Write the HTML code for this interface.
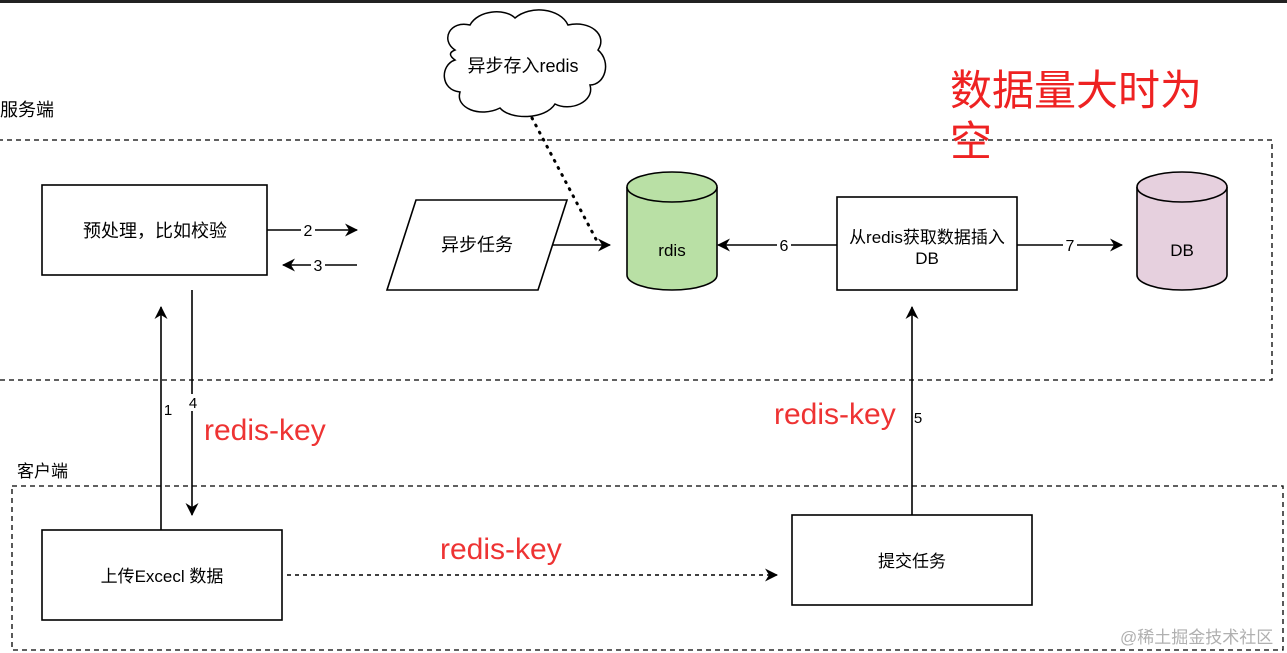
<!DOCTYPE html>
<html><head><meta charset="utf-8"><style>
html,body{margin:0;padding:0;background:#fff;width:1287px;height:653px;overflow:hidden}
text{font-family:"Liberation Sans","Noto Sans CJK SC",sans-serif}
</style></head><body>
<svg width="1287" height="653" viewBox="0 0 1287 653" xmlns="http://www.w3.org/2000/svg">
<defs>
<marker id="a" markerWidth="13" markerHeight="13" refX="12" refY="6.5" orient="auto" markerUnits="userSpaceOnUse">
<path d="M0,0 L13,6.5 L0,13 L4,6.5 Z" fill="#000"/></marker>
</defs>
<rect x="0" y="0" width="1287" height="3" fill="#222"/>
<rect x="-2" y="140" width="1274" height="240" fill="none" stroke="#000" stroke-width="1.3" stroke-dasharray="5,4"/>
<rect x="12" y="486" width="1271" height="164" fill="none" stroke="#000" stroke-width="1.3" stroke-dasharray="5,4"/>
<text x="0" y="116" font-size="18">服务端</text>
<text x="17" y="477" font-size="17">客户端</text>
<path d="M455,50 C440,40 450,20 470,25 C478,10 505,8 515,18 C530,5 560,8 568,25 C590,20 608,35 598,50 C612,62 605,85 590,85 C595,102 570,112 555,104 C545,120 510,120 500,108 C480,118 455,108 460,92 C440,90 440,65 455,60 C448,55 450,52 455,50 Z" fill="#fff" stroke="#000" stroke-width="1.5"/>
<text x="523" y="72" font-size="18" text-anchor="middle">异步存入redis</text>
<line x1="532" y1="118" x2="598" y2="243" stroke="#000" stroke-width="3" stroke-dasharray="1,7" stroke-linecap="round"/>
<rect x="42" y="185" width="225" height="90" fill="#fff" stroke="#000" stroke-width="1.6"/>
<text x="155" y="237" font-size="18" text-anchor="middle">预处理，比如校验</text>
<line x1="267" y1="230" x2="357" y2="230" stroke="#000" stroke-width="1.6" marker-end="url(#a)"/>
<rect x="301" y="221" width="14" height="18" fill="#fff"/><text x="308" y="236" font-size="16" text-anchor="middle">2</text>
<line x1="357" y1="265" x2="283" y2="265" stroke="#000" stroke-width="1.6" marker-end="url(#a)"/>
<rect x="311" y="256" width="14" height="18" fill="#fff"/><text x="318" y="271" font-size="16" text-anchor="middle">3</text>
<polygon points="416,200 567,200 538,290 387,290" fill="#fff" stroke="#000" stroke-width="1.6"/>
<text x="477" y="251" font-size="18" text-anchor="middle">异步任务</text>
<line x1="553" y1="245" x2="610" y2="245" stroke="#000" stroke-width="1.6" marker-end="url(#a)"/>
<path d="M627,187 L627,275 A45,15 0 0 0 717,275 L717,187" fill="#b9e0a5" stroke="#000" stroke-width="1.6"/>
<ellipse cx="672" cy="187" rx="45" ry="15" fill="#b9e0a5" stroke="#000" stroke-width="1.6"/>
<text x="672" y="256" font-size="17" text-anchor="middle">rdis</text>
<rect x="837" y="197" width="180" height="93" fill="#fff" stroke="#000" stroke-width="1.6"/>
<text x="927" y="243" font-size="17" text-anchor="middle">从redis获取数据插入</text>
<text x="927" y="264" font-size="17" text-anchor="middle">DB</text>
<line x1="837" y1="245" x2="718" y2="245" stroke="#000" stroke-width="1.6" marker-end="url(#a)"/>
<rect x="777" y="236" width="14" height="18" fill="#fff"/><text x="784" y="251" font-size="16" text-anchor="middle">6</text>
<line x1="1017" y1="245" x2="1122" y2="245" stroke="#000" stroke-width="1.6" marker-end="url(#a)"/>
<rect x="1063" y="236" width="14" height="18" fill="#fff"/><text x="1070" y="251" font-size="16" text-anchor="middle">7</text>
<path d="M1137,187 L1137,275 A45,15 0 0 0 1227,275 L1227,187" fill="#e6d0de" stroke="#000" stroke-width="1.6"/>
<ellipse cx="1182" cy="187" rx="45" ry="15" fill="#e6d0de" stroke="#000" stroke-width="1.6"/>
<text x="1182" y="256" font-size="17" text-anchor="middle">DB</text>
<text x="950" y="105" font-size="42" fill="#ee2222">数据量大时为</text>
<text x="950" y="156" font-size="42" fill="#ee2222">空</text>
<line x1="161" y1="530" x2="161" y2="307" stroke="#000" stroke-width="1.6" marker-end="url(#a)"/>
<text x="168" y="415" font-size="15" text-anchor="middle">1</text>
<line x1="192" y1="290" x2="192" y2="515" stroke="#000" stroke-width="1.6" marker-end="url(#a)"/>
<rect x="186" y="394" width="14" height="17" fill="#fff"/><text x="193" y="408" font-size="15" text-anchor="middle">4</text>
<text x="204" y="440" font-size="30" fill="#ee3333">redis-key</text>
<rect x="42" y="530" width="240" height="90" fill="#fff" stroke="#000" stroke-width="1.6"/>
<text x="162" y="582" font-size="17" text-anchor="middle">上传Excecl 数据</text>
<line x1="287" y1="575" x2="777" y2="575" stroke="#000" stroke-width="1.5" stroke-dasharray="4,4" marker-end="url(#a)"/>
<text x="440" y="559" font-size="30" fill="#ee3333">redis-key</text>
<rect x="792" y="515" width="240" height="90" fill="#fff" stroke="#000" stroke-width="1.6"/>
<text x="912" y="567" font-size="17" text-anchor="middle">提交任务</text>
<line x1="912" y1="515" x2="912" y2="307" stroke="#000" stroke-width="1.6" marker-end="url(#a)"/>
<text x="918" y="423" font-size="15" text-anchor="middle">5</text>
<text x="774" y="424" font-size="30" fill="#ee3333">redis-key</text>
<text x="1120" y="643" font-size="17" fill="#b0b0b0">@稀土掘金技术社区</text>
</svg>
</body></html>
